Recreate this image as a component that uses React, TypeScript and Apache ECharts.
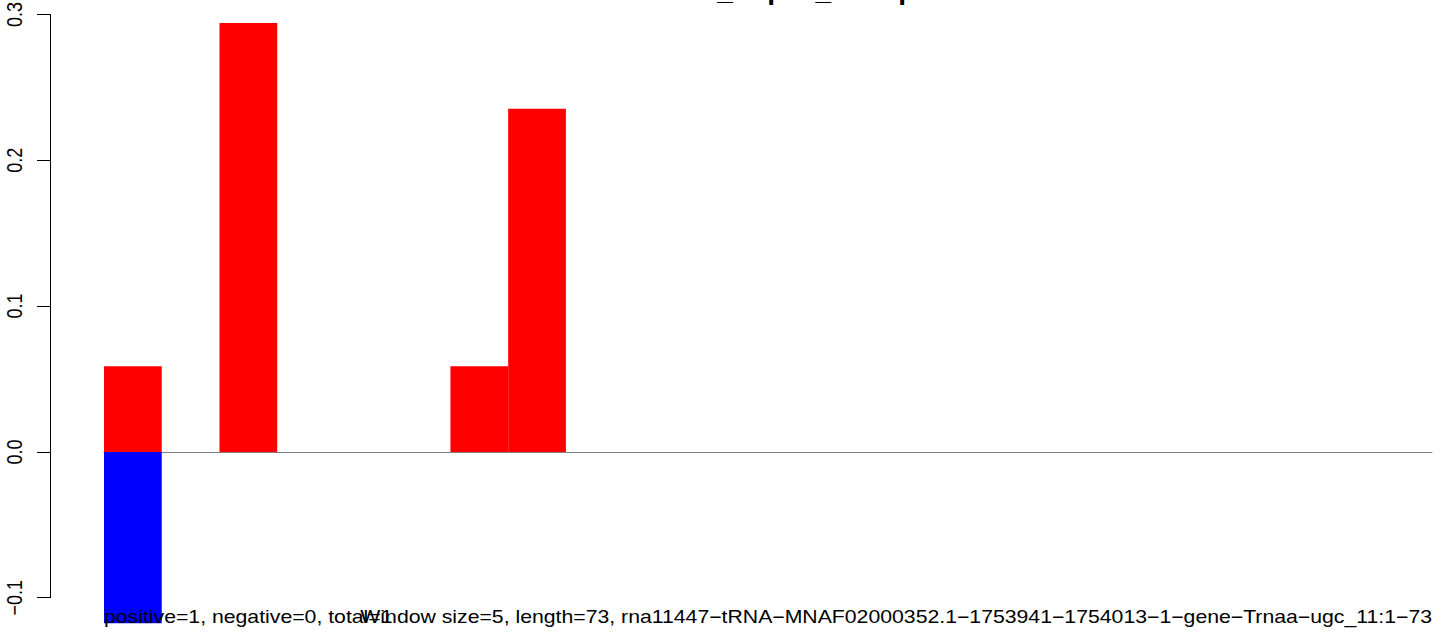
import React, { useEffect, useRef } from 'react';
import * as echarts from 'echarts';

const categories = ['1', '2', '3', '4', '5', '6', '7', '8', '9', '10', '11', '12', '13', '14', '15', '16', '17', '18', '19', '20', '21', '22', '23'];
const positiveValues = [0.0588, 0, 0.2941, 0, 0, 0, 0.0588, 0.2353, 0, 0, 0, 0, 0, 0, 0, 0, 0, 0, 0, 0, 0, 0, 0];
const negativeValues = [-0.1176, 0, 0, 0, 0, 0, 0, 0, 0, 0, 0, 0, 0, 0, 0, 0, 0, 0, 0, 0, 0, 0, 0];
const yTicks = [-0.1, 0, 0.1, 0.2, 0.3];
const yTickLabels = ['\u22120.1', '0.0', '0.1', '0.2', '0.3'];
const titleText = 'rna11447_Exp12_Group';
const leftNote = 'positive=1, negative=0, total=1';
const rightNote = 'Window size=5, length=73, rna11447\u2212tRNA\u2212MNAF02000352.1\u22121753941\u22121754013\u22121\u2212gene\u2212Trnaa\u2212ugc_11:1\u221273';

const FONT = '"Liberation Sans", Arial, Helvetica, sans-serif';
const SX = 1.18;

export default function App() {
  const ref = useRef<HTMLDivElement>(null);
  useEffect(() => {
    document.body.style.margin = '0';
    const chart = echarts.init(ref.current!, null, { renderer: 'svg' });
    chart.setOption({
      animation: false,
      backgroundColor: '#ffffff',
      grid: { left: 104, right: 12, top: 14.5, bottom: 36.3, containLabel: false },
      xAxis: {
        type: 'category',
        data: categories,
        boundaryGap: true,
        axisLine: { show: true, onZero: true, lineStyle: { color: '#808080', width: 1 } },
        axisTick: { show: false },
        axisLabel: { show: false },
        splitLine: { show: false },
      },
      yAxis: {
        type: 'value',
        min: -0.1,
        max: 0.3,
        interval: 0.1,
        offset: 54,
        axisLine: { show: true, lineStyle: { color: '#000000', width: 1 } },
        axisTick: { show: true, length: 13, lineStyle: { color: '#000000', width: 1 } },
        axisLabel: { show: false },
        splitLine: { show: false },
      },
      series: [
        {
          type: 'bar',
          data: positiveValues,
          barWidth: '100%',
          barGap: '-100%',
          clip: false,
          itemStyle: { color: '#ff0000' },
        },
        {
          type: 'bar',
          data: negativeValues,
          barWidth: '100%',
          barGap: '-100%',
          clip: false,
          itemStyle: { color: '#0000ff' },
        },
      ],
    });

    const graphics: any[] = [];
    yTicks.forEach((v, i) => {
      const py = chart.convertToPixel({ yAxisIndex: 0 }, v) as number;
      graphics.push({
        type: 'text',
        z: 100,
        x: 14,
        y: py,
        rotation: Math.PI / 2,
        scaleY: 1.2,
        style: {
          text: yTickLabels[i],
          fontSize: 18,
          fontFamily: FONT,
          fill: '#000000',
          align: 'center',
          verticalAlign: 'middle',
        },
      });
    });
    graphics.push({
      type: 'text',
      z: 100,
      x: 597,
      y: -8.2,
      scaleX: 1.3,
      style: {
        text: titleText,
        fontSize: 21.6,
        fontWeight: 'bold',
        fontFamily: FONT,
        fill: '#000000',
        align: 'left',
        verticalAlign: 'middle',
      },
    });
    graphics.push({
      type: 'text',
      z: 100,
      x: 104,
      y: 616.4,
      scaleX: SX,
      style: {
        text: leftNote,
        fontSize: 18,
        fontFamily: FONT,
        fill: '#000000',
        align: 'left',
        verticalAlign: 'middle',
      },
    });
    graphics.push({
      type: 'text',
      z: 100,
      x: 1432,
      y: 616.4,
      scaleX: SX,
      style: {
        text: rightNote,
        fontSize: 18,
        fontFamily: FONT,
        fill: '#000000',
        align: 'right',
        verticalAlign: 'middle',
      },
    });
    chart.setOption({ graphic: graphics });
    return () => chart.dispose();
  }, []);
  return <div ref={ref} style={{ width: 1444, height: 634 }} />;
}
